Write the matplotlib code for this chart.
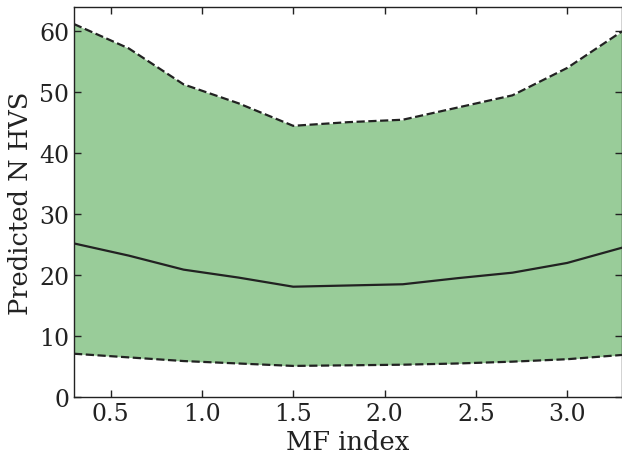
import matplotlib
matplotlib.use("Agg")
import matplotlib.pyplot as plt

mf = [0.3, 0.6, 0.9, 1.2, 1.5, 1.8, 2.1, 2.4, 2.7, 3.0, 3.3]
n_med = [25.2, 23.2, 20.9, 19.6, 18.1, 18.3, 18.5, 19.5, 20.4, 22.0, 24.5]
n_lo = [7.1, 6.5, 5.9, 5.5, 5.1, 5.2, 5.3, 5.5, 5.8, 6.2, 6.9]
n_hi = [61.2, 57.2, 51.3, 48.2, 44.5, 45.1, 45.5, 47.5, 49.5, 54.0, 60.0]

plt.rcParams['font.family'] = 'DejaVu Serif'
plt.rcParams['font.size'] = 17

fig = plt.figure(figsize=(6.22, 4.56), dpi=100)
ax = fig.add_axes([74/622, 58/456, 548/622, 390/456])

ax.fill_between(mf, n_lo, n_hi, color='#99cc99', lw=0)
ax.plot(mf, n_med, color='#222222', lw=1.6)
ax.plot(mf, n_lo, color='#222222', lw=1.6, ls='--')
ax.plot(mf, n_hi, color='#222222', lw=1.6, ls='--')

ax.set_xlim(0.3, 3.3)
ax.set_ylim(0, 64)
ax.set_xticks([0.5, 1.0, 1.5, 2.0, 2.5, 3.0])
ax.set_yticks(range(0, 61, 10))
ax.tick_params(direction='in', top=True, right=True, length=5, width=1.0, colors='#222222')
for s in ax.spines.values():
    s.set_color('#222222')
    s.set_linewidth(1.0)
ax.set_xlabel('MF index', color='#222222', fontsize=18.5, labelpad=3)
ax.set_ylabel('Predicted N HVS', color='#222222', fontsize=18.5, labelpad=4)

fig.savefig('out.png', dpi=100)
